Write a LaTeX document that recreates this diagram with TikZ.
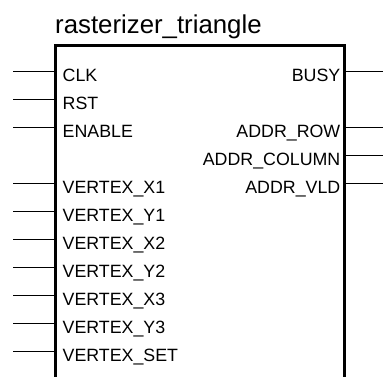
\documentclass[tikz,border=0pt]{standalone}
\usepackage{fontspec}
\setmainfont{Liberation Sans}
\begin{document}
\begin{tikzpicture}[x=1pt,y=-1pt,
  pinline/.style={line width=1pt},
  boxline/.style={line width=3.5pt},
  lbl/.style={inner sep=0pt,font=\fontsize{17.8}{20}\selectfont},
  ttl/.style={inner sep=0pt,font=\fontsize{25.8}{30}\selectfont}]
\useasboundingbox (0,0) rectangle (383,376);
\begin{scope}
\clip (0,0) rectangle (383,376);
\draw[boxline] (55.5,390) coordinate (bl) -- (55.5,45.5) coordinate (tl) -- (344.5,45.5) coordinate (tr) -- (344.5,390) coordinate (br);
\end{scope}
\node[ttl,anchor=base west] (title) at (55,33) {rasterizer\_triangle};
% left pins
\foreach \name/\lab/\yy in {clk/CLK/71, rst/RST/99, en/ENABLE/127, vx1/VERTEX\_X1/183, vy1/VERTEX\_Y1/211, vx2/VERTEX\_X2/239, vy2/VERTEX\_Y2/267, vx3/VERTEX\_X3/295, vy3/VERTEX\_Y3/323, vset/VERTEX\_SET/351}{
  \coordinate (\name-out) at (13,\yy);
  \coordinate (\name-in) at (55,\yy);
  \draw[pinline] (\name-out) -- (\name-in);
  \node[lbl,anchor=base west] (\name-lab) at (62.5,\yy+10) {\lab};
}
% right pins
\foreach \name/\lab/\yy in {busy/BUSY/71, arow/ADDR\_ROW/127, acol/ADDR\_COLUMN/155, avld/ADDR\_VLD/183}{
  \coordinate (\name-in) at (345,\yy);
  \coordinate (\name-out) at (383,\yy);
  \draw[pinline] (\name-in) -- (\name-out);
  \node[lbl,anchor=base east] (\name-lab) at (340.5,\yy+10) {\lab};
}
\end{tikzpicture}
\end{document}
